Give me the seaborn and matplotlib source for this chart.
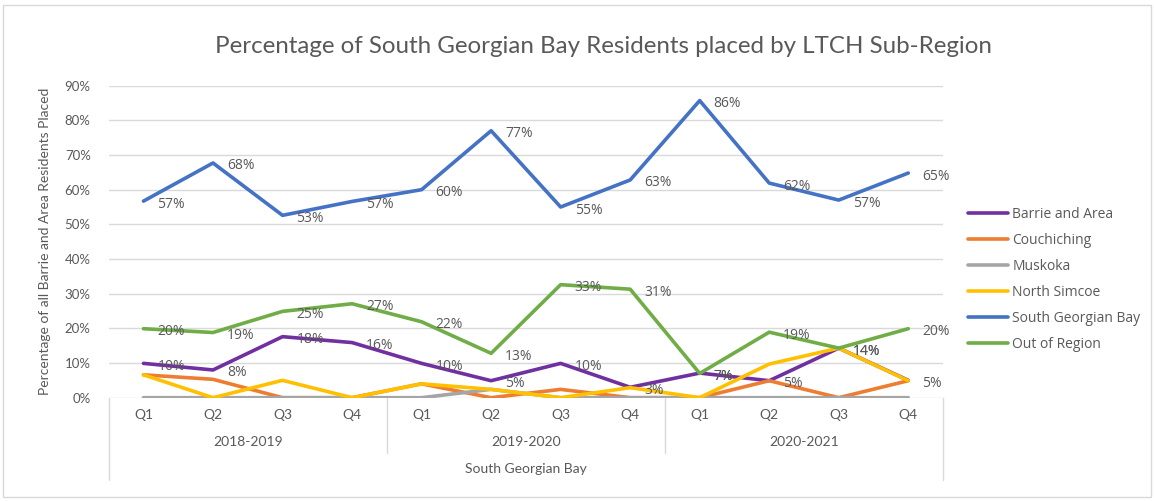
import pandas as pd
import numpy as np
import matplotlib
matplotlib.use("Agg")
import matplotlib.pyplot as plt
import matplotlib.transforms as mtransforms
from matplotlib.patches import Rectangle
from matplotlib.lines import Line2D
import seaborn as sns

# ---------- data ----------
quarters = ["Q1", "Q2", "Q3", "Q4"] * 3
years = ["2018-2019", "2019-2020", "2020-2021"]
region = "South Georgian Bay"

series_names = ["Barrie and Area", "Couchiching", "Muskoka", "North Simcoe",
                "South Georgian Bay", "Out of Region"]
barrie = [9.9, 8.0, 17.6, 15.9, 9.9, 4.9, 9.9, 3.0, 7.1, 4.9, 14.3, 5.0]
couchiching = [6.6, 5.3, 0, 0, 4.0, 0, 2.4, 0, 0, 4.9, 0, 4.9]
muskoka = [0, 0, 0, 0, 0, 2.4, 0, 0, 0, 0, 0, 0]
north_simcoe = [6.6, 0, 5.0, 0, 4.0, 2.4, 0, 2.9, 0, 9.7, 14.3, 4.9]
south_gb = [56.7, 67.7, 52.6, 56.6, 60.0, 77.0, 55.0, 62.8, 85.7, 61.9, 57.0, 64.8]
out_region = [19.9, 18.8, 24.9, 27.1, 21.9, 12.8, 32.6, 31.3, 7.0, 18.9, 14.3, 19.9]

colors = ["#7030A0", "#ED7D31", "#A5A5A5", "#FFC000", "#4472C4", "#70AD47"]
labelled = ["Barrie and Area", "South Georgian Bay", "Out of Region"]

values = [barrie, couchiching, muskoka, north_simcoe, south_gb, out_region]
rows = []
for name, vals in zip(series_names, values):
    for i, v in enumerate(vals):
        rows.append({"pos": i, "series": name, "value": v / 100})
df = pd.DataFrame(rows)

# ---------- figure ----------
sns.set_style("white")
plt.rcParams["font.family"] = ["Open Sans", "DejaVu Sans"]
TXT = "#595959"

fig = plt.figure(figsize=(11.54, 5.01), dpi=100)
fig.patches.append(Rectangle((0.003, 0.008), 0.994, 0.982, transform=fig.transFigure,
                             fill=False, edgecolor="#D9D9D9", lw=1))
ax = fig.add_axes([0.0942, 0.2062, 0.7230, 0.6228])

sns.lineplot(data=df, x="pos", y="value", hue="series", hue_order=series_names,
             palette=colors, lw=2.6, legend=False, ax=ax, sort=False)

ax.set_xlim(-0.5, 11.5)
ax.set_ylim(0, 0.9)
ax.set_yticks(np.arange(0, 0.91, 0.1))
ax.set_yticklabels([f"{int(round(t * 100))}%" for t in np.arange(0, 0.91, 0.1)],
                   fontsize=9.5, color=TXT, family="Lato")
ax.tick_params(axis="y", length=0, pad=13)
ax.grid(axis="y", color="#D9D9D9", lw=1)
ax.set_axisbelow(True)
ax.set_xticks([])
ax.set_xlabel("")
for s in ax.spines.values():
    s.set_visible(False)
ax.set_ylabel("Percentage of all Barrie and Area Residents Placed",
              fontsize=10, color=TXT, family="Lato", labelpad=10)

# data labels
for name, vals in zip(series_names, values):
    if name not in labelled:
        continue
    for i, v in enumerate(vals):
        ax.annotate(f"{v:.0f}%", (i, v / 100), xytext=(14, -3),
                    textcoords="offset pixels", ha="left", va="center",
                    fontsize=10, color=TXT)

# multi-level category axis
trans = mtransforms.blended_transform_factory(ax.transData, ax.transAxes)
for i, q in enumerate(quarters):
    ax.text(i, -0.055, q, transform=trans, ha="center", va="center",
            fontsize=10, color=TXT, family="Lato")
for g, yr in enumerate(years):
    ax.text(g * 4 + 1.5, -0.142, yr, transform=trans, ha="center", va="center",
            fontsize=10, color=TXT, family="Lato")
ax.text(5.5, -0.23, region, transform=trans, ha="center", va="center",
        fontsize=10, color=TXT, family="Lato")
for xb in [3.5, 7.5]:
    ax.add_line(Line2D([xb, xb], [0, -0.177], transform=trans, color="#D9D9D9",
                       lw=1, clip_on=False))
for xb in [-0.5, 11.5]:
    ax.add_line(Line2D([xb, xb], [0, -0.265], transform=trans, color="#D9D9D9",
                       lw=1, clip_on=False))

# legend
handles = [Line2D([], [], color=c, lw=2.6) for c in colors]
leg = fig.legend(handles, series_names, loc="upper left",
                 bbox_to_anchor=(0.828, 0.612), frameon=False, fontsize=10,
                 handlelength=2.9, handletextpad=0.3, labelspacing=0.79)
for t in leg.get_texts():
    t.set_color(TXT)

fig.text(0.523, 0.908, "Percentage of South Georgian Bay Residents placed by LTCH Sub-Region",
         ha="center", va="center", fontsize=17.4, color=TXT, family="Lato")

fig.savefig("out.png", dpi=100)
